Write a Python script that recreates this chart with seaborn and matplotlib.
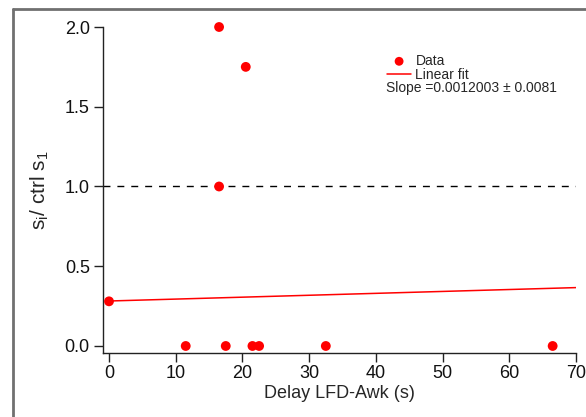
import matplotlib
matplotlib.use("Agg")
import matplotlib.pyplot as plt
from matplotlib.lines import Line2D
import seaborn as sns
import pandas as pd
import numpy as np

# Measurements: delay between LFD and awakening vs. normalised s
delay_s = [0.0, 11.5, 16.5, 16.5, 17.5, 20.5, 21.5, 22.5, 32.5, 66.5]
ratio = [0.28, 0.0, 2.0, 1.0, 0.0, 1.75, 0.0, 0.0, 0.0, 0.0]

# Linear fit parameters
fit_intercept = 0.282
fit_slope = 0.0012003
fit_slope_err = 0.0081
fit_x = [0.0, 70.0]

x_ticks = [0, 10, 20, 30, 40, 50, 60, 70]
y_ticks = [0.0, 0.5, 1.0, 1.5, 2.0]

sns.set_style("ticks")
plt.rcParams["font.family"] = ["Liberation Sans", "DejaVu Sans"]
plt.rcParams["mathtext.fontset"] = "custom"
plt.rcParams["mathtext.rm"] = "Liberation Sans"
plt.rcParams["mathtext.it"] = "Liberation Sans"

W, H = 586, 417
fig = plt.figure(figsize=(W / 100, H / 100), dpi=100)
ax = fig.add_axes([103 / W, 64 / H, 473 / W, 326 / H])

df = pd.DataFrame({"delay": delay_s, "ratio": ratio})
fit_df = pd.DataFrame({"delay": fit_x,
                       "ratio": [fit_intercept + fit_slope * x for x in fit_x]})

ax.axhline(1.0, color="black", lw=1.0, ls=(0, (5, 5)), zorder=1)
sns.lineplot(data=fit_df, x="delay", y="ratio", ax=ax, color="#ff0000",
             lw=1.1, label="Linear fit", zorder=2)
sns.scatterplot(data=df, x="delay", y="ratio", ax=ax, color="#ff0000",
                s=50, edgecolor="none", label="Data", zorder=3, clip_on=False)

ax.set_xlim(-0.9, 70)
ax.set_ylim(-0.044, 2.0)
ax.set_xticks(x_ticks)
ax.set_yticks(y_ticks)
ax.set_yticklabels([f"{v:.1f}" for v in y_ticks])

for side in ("top", "right"):
    ax.spines[side].set_visible(False)
for side in ("left", "bottom"):
    ax.spines[side].set_color("#222222")
    ax.spines[side].set_linewidth(1.0)
ax.tick_params(axis="both", direction="out", length=6.5, width=1.0,
               color="#222222", labelsize=13, labelcolor="#111111")
ax.tick_params(axis="x", pad=2)
ax.tick_params(axis="y", pad=3)

ax.set_xlabel("Delay LFD-Awk (s)", fontsize=13, labelpad=2)
ax.set_ylabel(r"$\mathrm{s_i}$/ ctrl $\mathrm{s_1}$", fontsize=15, labelpad=10)

handles, labels = ax.get_legend_handles_labels()
order = [labels.index("Data"), labels.index("Linear fit")]
leg = ax.legend([handles[i] for i in order], [labels[i] for i in order],
                loc="upper left", bbox_to_anchor=(380 / W, 1 - 47 / H),
                bbox_transform=fig.transFigure, frameon=False, fontsize=10,
                handlelength=1.75, handletextpad=0.3, borderpad=0,
                labelspacing=0.0, markerscale=0.9)
fig.text(386 / W, 1 - 88 / H, f"Slope ={fit_slope:.7f} \u00b1 {fit_slope_err}",
         fontsize=10, va="center", ha="left")

# Outer panel frame
frame_kw = dict(color="#707070", lw=2.0, transform=fig.transFigure)
fig.add_artist(Line2D([12.5 / W, 1.0], [1 - 8.5 / H, 1 - 8.5 / H], **frame_kw))
fig.add_artist(Line2D([12.5 / W, 12.5 / W], [0.0, 1 - 8.5 / H], **frame_kw))

fig.savefig("out.png", dpi=100)
